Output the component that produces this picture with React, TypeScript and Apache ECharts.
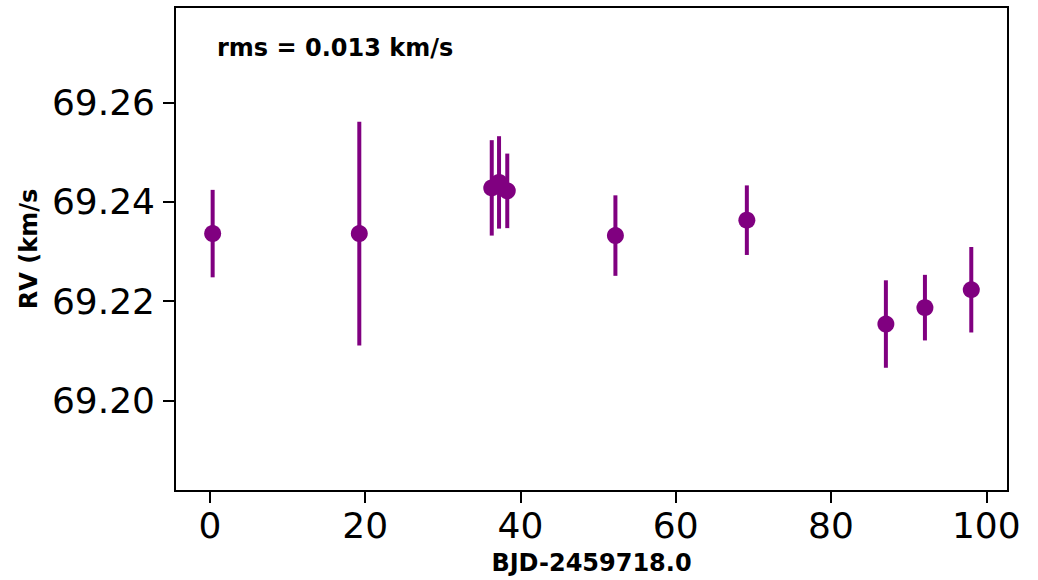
import React, { useEffect, useRef } from "react";
import * as echarts from "echarts";

const xValues = [0.35, 19.24, 36.3, 37.24, 38.3, 52.23, 69.16, 87.07, 92.1, 98.07];
const rvValues = [69.2336, 69.2336, 69.2428, 69.2439, 69.2422, 69.2332, 69.2363, 69.2154, 69.2187, 69.2223];
const rvErrors = [0.0088, 0.0225, 0.0096, 0.0093, 0.0075, 0.0081, 0.007, 0.0088, 0.0066, 0.0086];
const xTicks = [0, 20, 40, 60, 80, 100];
const yTicks = [69.2, 69.22, 69.24, 69.26];
const xLabel = "BJD-2459718.0";
const yLabel = "RV (km/s";
const rmsText = "rms = 0.013 km/s";

const COLOR = "#800080";

export default function App() {
  const ref = useRef<HTMLDivElement>(null);
  useEffect(() => {
    if (!ref.current) return;
    const chart = echarts.init(ref.current, null, { renderer: "svg" });
    const errData = xValues.map((x, i) => [x, rvValues[i] - rvErrors[i], rvValues[i] + rvErrors[i]]);
    const ptData = xValues.map((x, i) => [x, rvValues[i]]);
    chart.setOption({
      animation: false,
      backgroundColor: "#ffffff",
      grid: { left: 175, top: 7, right: 30, bottom: 86, show: true, borderColor: "#000", borderWidth: 2 },
      xAxis: {
        type: "value",
        min: -4.5,
        max: 102.8,
        name: xLabel,
        nameLocation: "middle",
        nameGap: 60,
        nameTextStyle: { fontFamily: "DejaVu Sans", fontWeight: "bold", fontSize: 24, color: "#000" },
        axisLine: { show: true, onZero: false, lineStyle: { color: "#000", width: 2 } },
        axisTick: { show: true, customValues: xTicks, length: 12, lineStyle: { color: "#000", width: 2 } },
        axisLabel: {
          customValues: xTicks,
          margin: 16,
          fontFamily: "DejaVu Sans",
          fontSize: 36,
          color: "#000",
        },
        splitLine: { show: false },
      },
      yAxis: {
        type: "value",
        min: 69.1818,
        max: 69.2792,
        name: yLabel,
        nameLocation: "middle",
        nameGap: 133,
        nameRotate: 90,
        nameTextStyle: { fontFamily: "DejaVu Sans", fontWeight: "bold", fontSize: 24, color: "#000" },
        axisLine: { show: true, onZero: false, lineStyle: { color: "#000", width: 2 } },
        axisTick: { show: true, customValues: yTicks, length: 12, lineStyle: { color: "#000", width: 2 } },
        axisLabel: {
          customValues: yTicks,
          margin: 20,
          fontFamily: "DejaVu Sans",
          fontSize: 36,
          color: "#000",
          formatter: (v: number) => v.toFixed(2),
        },
        splitLine: { show: false },
      },
      graphic: [
        {
          type: "text",
          left: 217,
          top: 36,
          style: { text: rmsText, fontFamily: "DejaVu Sans", fontWeight: "bold", fontSize: 24, fill: "#000" },
        },
      ],
      series: [
        {
          type: "custom",
          data: errData,
          z: 2,
          renderItem: (params: any, api: any) => {
            const p1 = api.coord([api.value(0), api.value(1)]);
            const p2 = api.coord([api.value(0), api.value(2)]);
            return {
              type: "line",
              shape: { x1: p1[0], y1: p1[1], x2: p2[0], y2: p2[1] },
              style: { stroke: COLOR, lineWidth: 4 },
            };
          },
        },
        {
          type: "scatter",
          data: ptData,
          symbol: "circle",
          symbolSize: 17,
          z: 3,
          itemStyle: { color: COLOR, opacity: 1 },
        },
      ],
    });
    return () => chart.dispose();
  }, []);
  return <div ref={ref} style={{ position: "fixed", left: 0, top: 0, width: 1038, height: 580 }} />;
}
